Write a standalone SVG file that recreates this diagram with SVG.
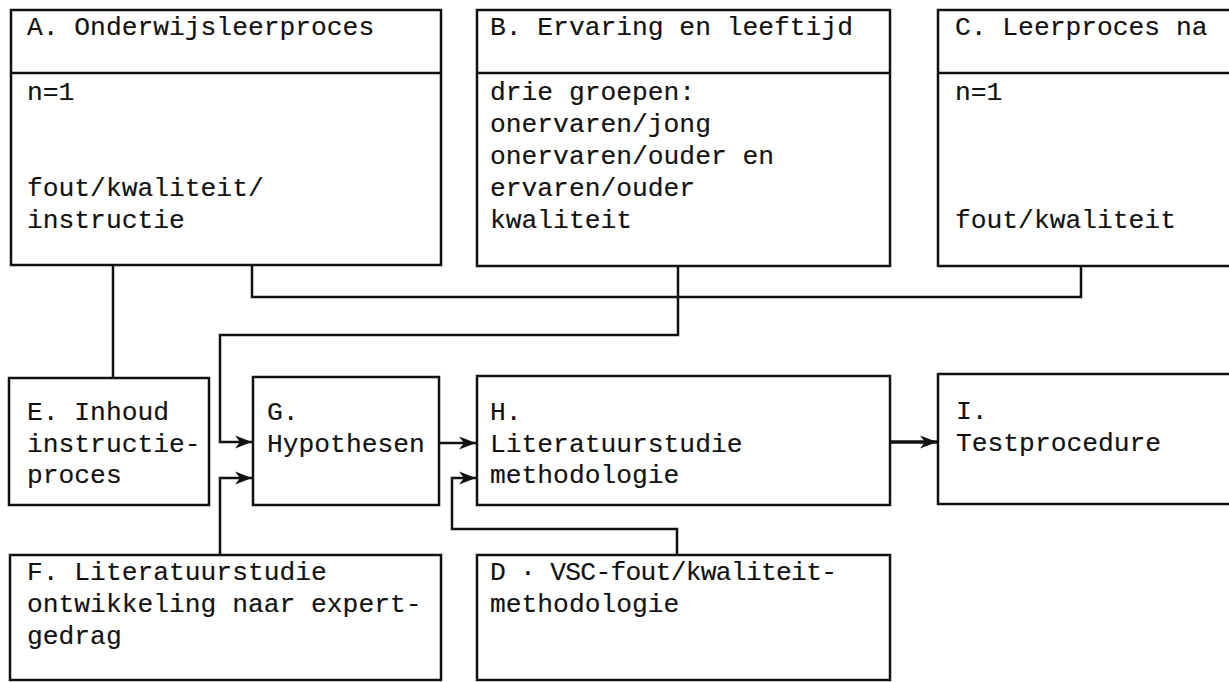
<svg xmlns="http://www.w3.org/2000/svg" width="1229" height="682" viewBox="0 0 1229 682">
<style>
.box{fill:#fff;stroke:#111;stroke-width:2.5}
.div{stroke:#111;stroke-width:2.5}
.t{font-family:"Liberation Mono","Courier New",monospace;font-size:26.3px;fill:#111;stroke:#111;stroke-width:0.15}
.c{fill:none;stroke:#111;stroke-width:2.5}
.c2{fill:none;stroke:#111;stroke-width:3.5}
</style>
<defs>
<marker id="ah" markerUnits="userSpaceOnUse" markerWidth="18" markerHeight="16" refX="17" refY="8" orient="auto">
<path d="M0,1.5 L17,8 L0,14.5 L5,8 z" fill="#111"/>
</marker>
</defs>
<rect width="1229" height="682" fill="#fff"/>
<g id="connectors">
<path class="c" d="M113,265 V377"/>
<path class="c" d="M252,265 V297 H1081 V266"/>
<path class="c" d="M678,266 V335 H220 V442 H252" marker-end="url(#ah)"/>
<path class="c" d="M439,443 H476" marker-end="url(#ah)"/>
<path class="c2" d="M890,442 H937" marker-end="url(#ah)"/>
<path class="c" d="M220,555 V478 H252" marker-end="url(#ah)"/>
<path class="c" d="M677,555 V529 H452 V478 H476" marker-end="url(#ah)"/>
</g>
<g id="nodeA">
<rect class="box" x="11" y="10" width="430" height="255"/>
<line class="div" x1="11" y1="73" x2="441" y2="73"/>
<text class="t" x="27" y="35">A. Onderwijsleerproces</text>
<text class="t" x="27" y="100">n=1</text>
<text class="t" x="27" y="196">fout/kwaliteit/</text>
<text class="t" x="27" y="228">instructie</text>
</g>
<g id="nodeB">
<rect class="box" x="477" y="10" width="413" height="256"/>
<line class="div" x1="477" y1="73" x2="890" y2="73"/>
<text class="t" x="490" y="35">B. Ervaring en leeftijd</text>
<text class="t" x="490" y="100">drie groepen:</text>
<text class="t" x="490" y="132">onervaren/jong</text>
<text class="t" x="490" y="164">onervaren/ouder en</text>
<text class="t" x="490" y="196">ervaren/ouder</text>
<text class="t" x="490" y="228">kwaliteit</text>
</g>
<g id="nodeC">
<rect class="box" x="938" y="10" width="300" height="256"/>
<line class="div" x1="938" y1="73" x2="1229" y2="73"/>
<text class="t" x="955" y="35">C. Leerproces na</text>
<text class="t" x="955" y="100">n=1</text>
<text class="t" x="955" y="228">fout/kwaliteit</text>
</g>
<g id="nodeE">
<rect class="box" x="9" y="378" width="200" height="127"/>
<text class="t" x="27" y="420">E. Inhoud</text>
<text class="t" x="27" y="452">instructie-</text>
<text class="t" x="27" y="483">proces</text>
</g>
<g id="nodeG">
<rect class="box" x="253" y="377" width="186" height="128"/>
<text class="t" x="267" y="420">G.</text>
<text class="t" x="267" y="452">Hypothesen</text>
</g>
<g id="nodeH">
<rect class="box" x="477" y="376" width="413" height="129"/>
<text class="t" x="490" y="420">H.</text>
<text class="t" x="490" y="452">Literatuurstudie</text>
<text class="t" x="490" y="483">methodologie</text>
</g>
<g id="nodeI">
<rect class="box" x="938" y="374" width="300" height="130"/>
<text class="t" x="956" y="419">I.</text>
<text class="t" x="956" y="451">Testprocedure</text>
</g>
<g id="nodeF">
<rect class="box" x="10" y="555" width="431" height="125"/>
<text class="t" x="27" y="580">F. Literatuurstudie</text>
<text class="t" x="27" y="612">ontwikkeling naar expert-</text>
<text class="t" x="27" y="644">gedrag</text>
</g>
<g id="nodeD">
<rect class="box" x="477" y="555" width="413" height="125"/>
<text class="t" x="490" y="580" textLength="347" lengthAdjust="spacing">D · VSC-fout/kwaliteit-</text>
<text class="t" x="490" y="612">methodologie</text>
</g>
</svg>
